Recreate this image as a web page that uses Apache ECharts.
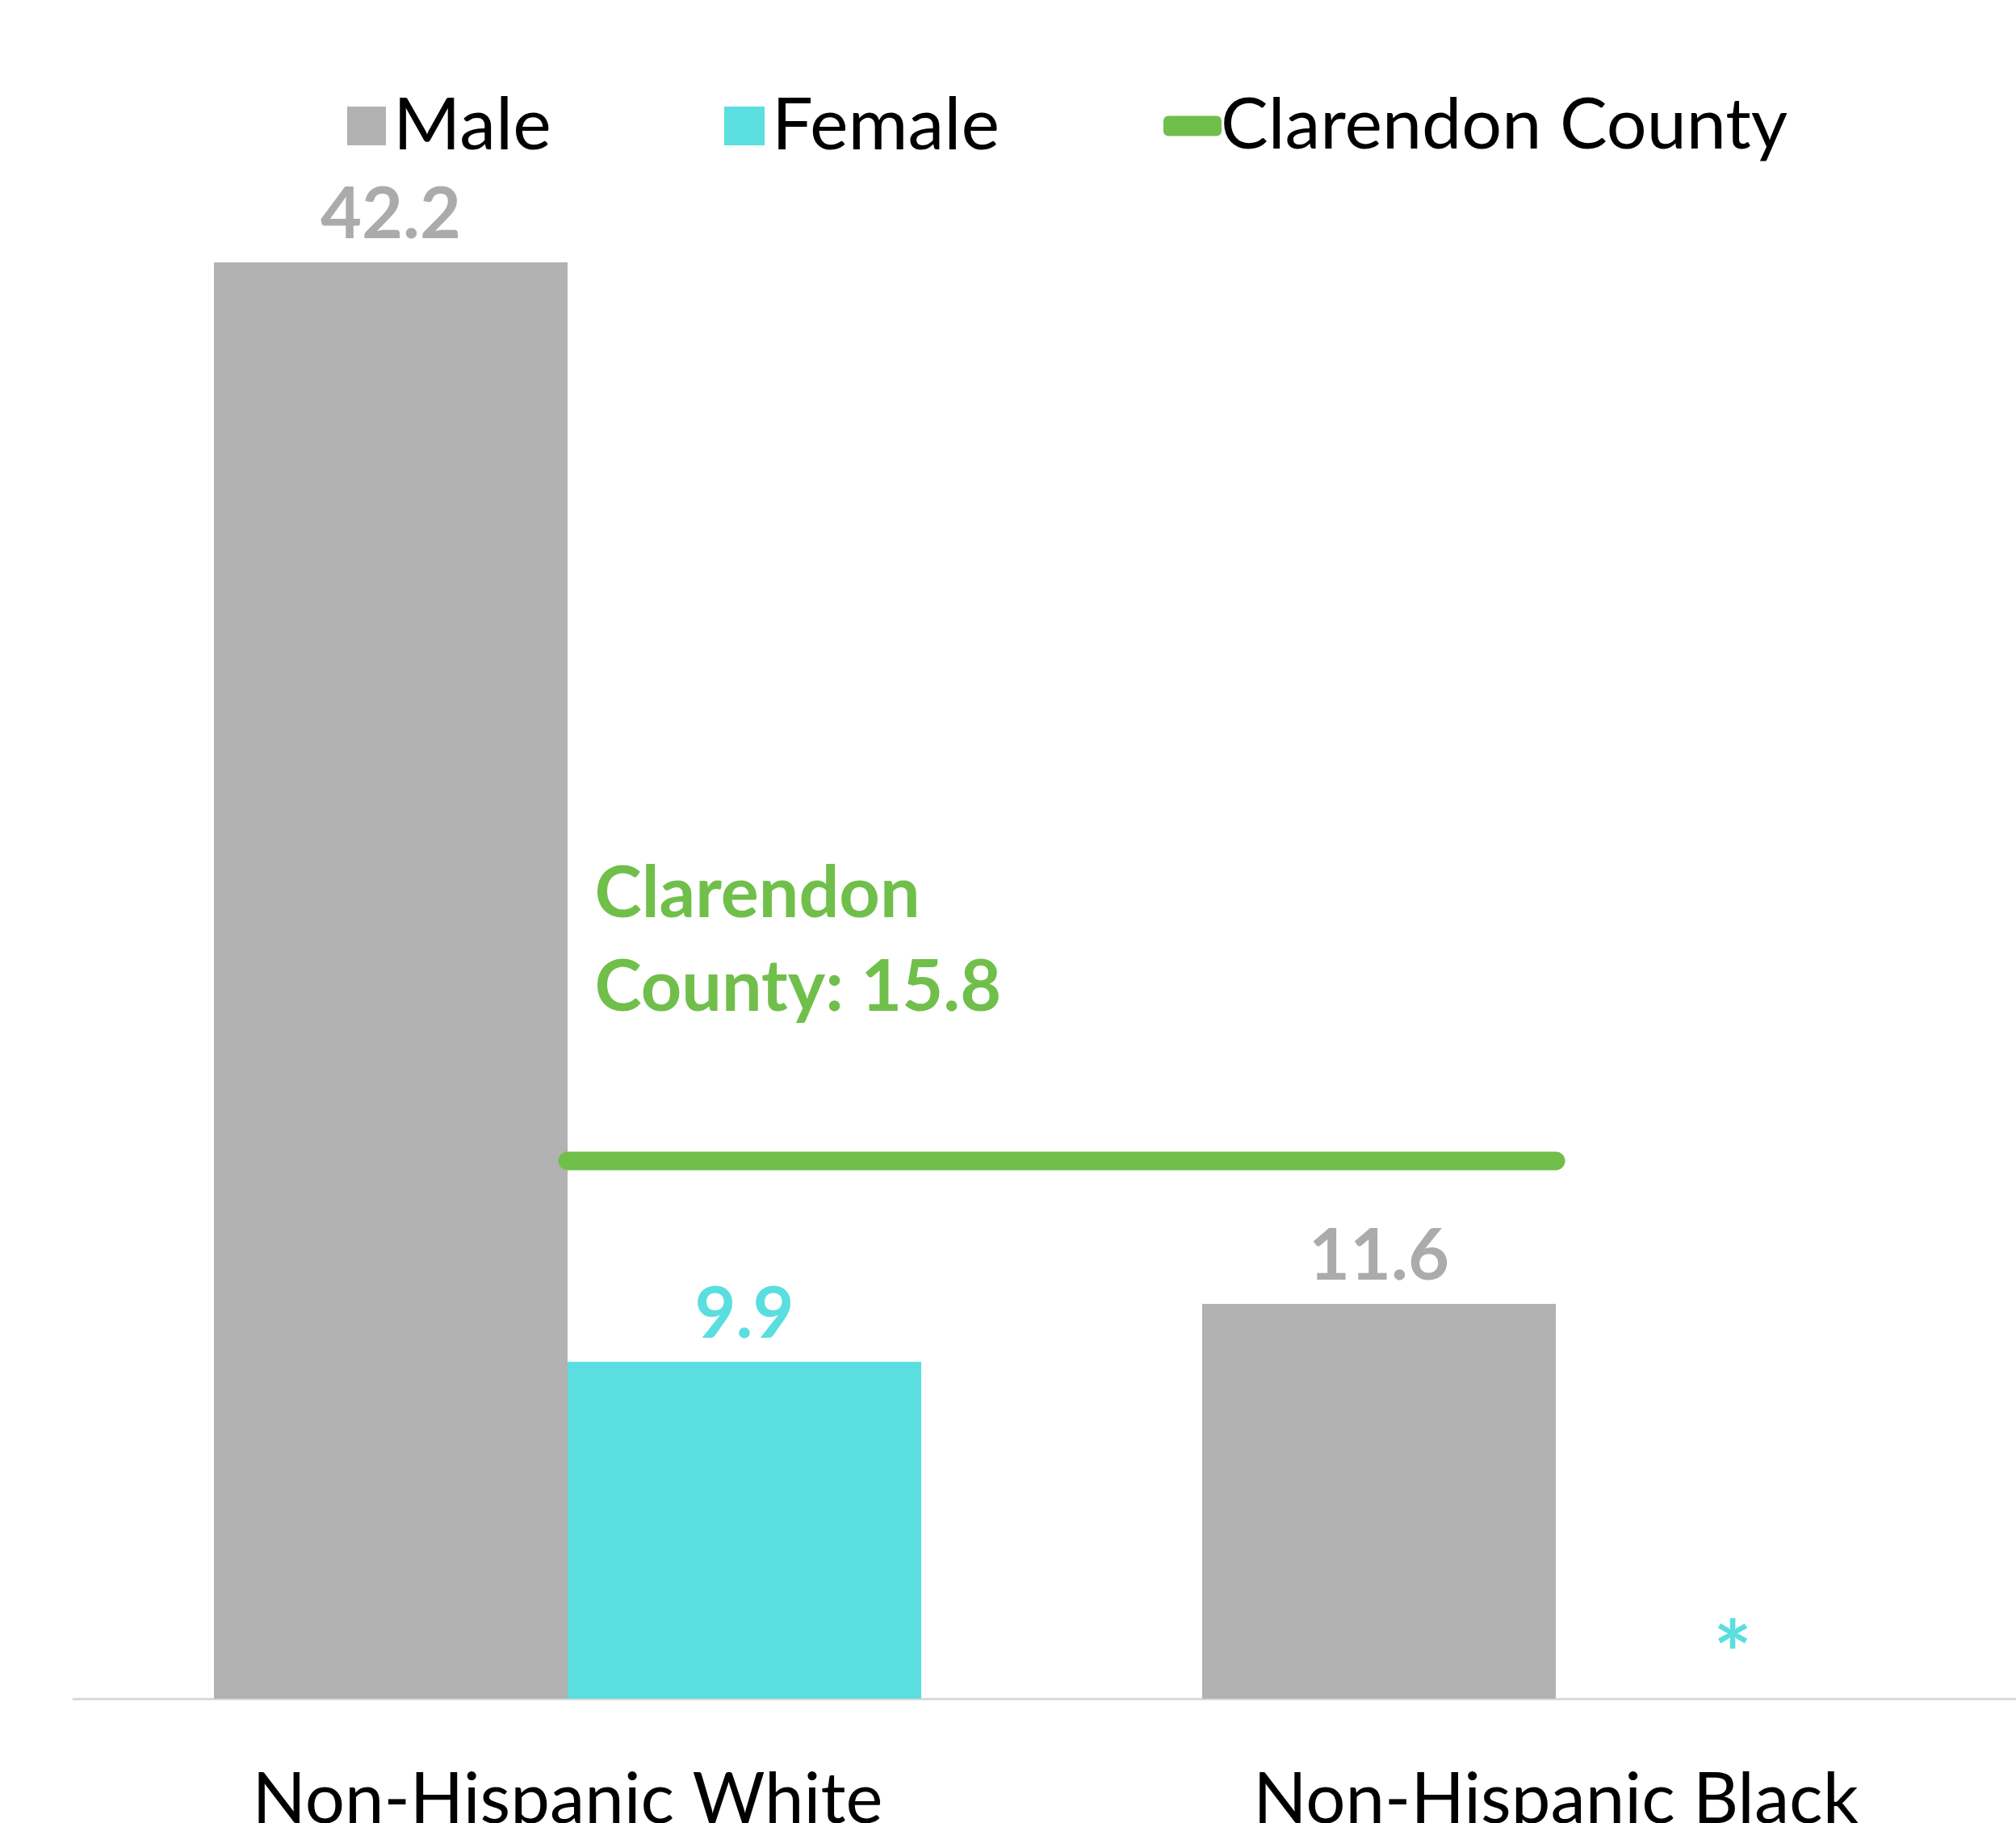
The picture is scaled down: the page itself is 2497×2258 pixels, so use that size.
<!DOCTYPE html>
<html><head><meta charset="utf-8">
<script src="https://cdn.jsdelivr.net/npm/echarts@6/dist/echarts.min.js"></script>
<style>html,body{margin:0;padding:0;background:#fff}#c{width:2497px;height:2258px}</style>
</head><body><div id="c"></div>
<script>
var categories = ['Non-Hispanic White', 'Non-Hispanic Black'];
var maleValues = [42.2, 11.6];
var femaleValues = [9.9, null];
var countyValues = [15.8, 15.8];
var countyName = 'Clarendon County';
var seriesNames = ['Male', 'Female', countyName];

var FONT = 'Lato';
var GREY = '#B2B2B2', CYAN = '#5ADEDF', GREEN = '#70BF4B';

var femaleData = femaleValues.map(function (v) {
  return v == null ? { value: 0, label: { formatter: '*', distance: -5, fontSize: 112, lineHeight: 112 } } : v;
});
var countyData = countyValues.map(function (v, i) {
  return i === 0 ? { value: v, label: { show: true } } : v;
});

var chart = echarts.init(document.getElementById('c'));
function legendText(size, padLeft) {
  return { fontFamily: FONT, fontSize: size, color: '#000', lineHeight: 100, padding: [0, 0, 0, padLeft] };
}
chart.setOption({
  animation: false,
  backgroundColor: '#fff',
  legend: [
    { data: [{ name: seriesNames[0], icon: 'rect' }], left: 430, top: 106, padding: 0, itemWidth: 48, itemHeight: 48,
      textStyle: legendText(90, 4) },
    { data: [{ name: seriesNames[1], icon: 'rect' }], left: 897, top: 106, padding: 0, itemWidth: 50, itemHeight: 48,
      textStyle: legendText(90, 4) },
    { data: [{ name: seriesNames[2], icon: 'roundRect' }], left: 1441, top: 106, padding: 0, itemWidth: 72, itemHeight: 25,
      textStyle: legendText(88, -6) }
  ],
  grid: { left: 91, top: 207, width: 2448, height: 1897, containLabel: false, outerBoundsMode: 'none' },
  xAxis: {
    type: 'category', data: categories,
    axisLine: { lineStyle: { color: '#D9D9D9', width: 3 } },
    axisTick: { show: false },
    axisLabel: { fontFamily: FONT, fontSize: 87, color: '#000', margin: 82 }
  },
  yAxis: { type: 'value', min: 0, max: 45, show: false, splitLine: { show: false } },
  series: [
    { name: seriesNames[0], type: 'bar', data: maleValues, barWidth: 438, barGap: '0%',
      itemStyle: { color: GREY },
      label: { show: true, position: 'top', distance: 14, fontFamily: FONT, fontWeight: 'bold', fontSize: 88, color: '#ABABAB' } },
    { name: seriesNames[1], type: 'bar', data: femaleData, barWidth: 438,
      itemStyle: { color: CYAN },
      label: { show: true, position: 'top', distance: 14, fontFamily: FONT, fontWeight: 'bold', fontSize: 88, color: CYAN } },
    { name: seriesNames[2], type: 'line', data: countyData, symbol: 'circle', symbolSize: 1,
      lineStyle: { color: GREEN, width: 23, cap: 'round' }, itemStyle: { color: GREEN },
      label: { show: false, position: 'right', distance: 5, offset: [28, -272],
        formatter: function (p) { return 'Clarendon\nCounty: ' + p.value; },
        fontFamily: FONT, fontWeight: 'bold', fontSize: 88, lineHeight: 116, color: GREEN, align: 'left' },
      z: 5 }
  ]
});
</script></body></html>
